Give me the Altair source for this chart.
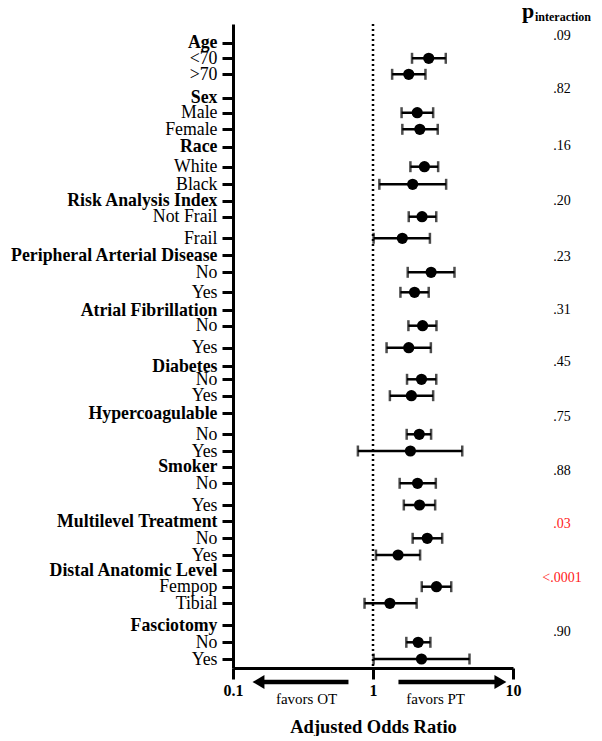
import json
import altair as alt
import pandas as pd

# ---- rows of the forest plot (top to bottom) ----
row_labels = ["Age", "<70", ">70",
              "Sex", "Male", "Female",
              "Race", "White", "Black",
              "Risk Analysis Index", "Not Frail", "Frail",
              "Peripheral Arterial Disease", "No", "Yes",
              "Atrial Fibrillation", "No", "Yes",
              "Diabetes", "No", "Yes",
              "Hypercoagulable", "No", "Yes",
              "Smoker", "No", "Yes",
              "Multilevel Treatment", "No", "Yes",
              "Distal Anatomic Level", "Fempop", "Tibial",
              "Fasciotomy", "No", "Yes"]
row_pos = [42.7, 58.3, 74.3,
           97.7, 112.7, 129.3,
           146.7, 166.7, 184.3,
           200.7, 216.7, 238.3,
           255.0, 272.3, 292.3,
           310.0, 325.7, 347.7,
           366.0, 379.3, 395.7,
           413.3, 434.3, 451.0,
           466.7, 483.3, 505.0,
           521.0, 538.3, 555.0,
           570.0, 586.7, 603.3,
           625.0, 642.3, 659.0]
is_header = [1, 0, 0, 1, 0, 0, 1, 0, 0, 1, 0, 0,
             1, 0, 0, 1, 0, 0, 1, 0, 0, 1, 0, 0,
             1, 0, 0, 1, 0, 0, 1, 0, 0, 1, 0, 0]

# ---- adjusted odds ratios for subgroup rows (in row order) ----
odds_ratio = [2.50, 1.80, 2.07, 2.16, 2.33, 1.92, 2.24, 1.62,
              2.60, 1.98, 2.26, 1.80, 2.22, 1.88, 2.14, 1.85,
              2.08, 2.15, 2.44, 1.51, 2.84, 1.32, 2.10, 2.22]
ci_low = [1.90, 1.37, 1.60, 1.62, 1.85, 1.11, 1.80, 1.01,
          1.77, 1.57, 1.79, 1.25, 1.75, 1.32, 1.74, 0.78,
          1.55, 1.66, 1.92, 1.05, 2.23, 0.87, 1.73, 1.01]
ci_high = [3.31, 2.37, 2.69, 2.90, 2.92, 3.33, 2.83, 2.55,
           3.82, 2.50, 2.84, 2.59, 2.83, 2.69, 2.60, 4.34,
           2.81, 2.78, 3.12, 2.17, 3.62, 2.05, 2.57, 4.89]

# ---- p for interaction, one per header ----
p_text = [".09", ".82", ".16", ".20", ".23", ".31",
          ".45", ".75", ".88", ".03", "<.0001", ".90"]
p_value = [0.09, 0.82, 0.16, 0.20, 0.23, 0.31,
           0.45, 0.75, 0.88, 0.03, 0.0001, 0.90]
p_pos = [36, 89, 146, 201, 257, 310, 362, 417, 471, 524, 578, 632]

# ---- direction annotations below the axis ----
arrow_start = [0.668, 1.52]
arrow_end = [0.152, 8.13]
arrow_text = ["favors OT", "favors PT"]
arrow_text_x = [0.335, 2.80]
arrow_shape = ["triangle-left", "triangle-right"]

# ---------------- tables ----------------
sub_pos = [p for h, p in zip(is_header, row_pos) if not h]
est = pd.DataFrame({"pos": sub_pos, "or": odds_ratio, "lo": ci_low, "hi": ci_high})
pv = pd.DataFrame({"pos": p_pos, "txt": p_text, "p": p_value})
arr = pd.DataFrame({"x1": arrow_start, "x2": arrow_end, "tx": arrow_text_x,
                    "txt": arrow_text, "shape": arrow_shape})
ref = pd.DataFrame({"x": [1.0]})

W, H = 280, 644
FONT = "Liberation Serif"

lab_js = json.dumps(row_labels)
pos_js = json.dumps(row_pos)
head_pos_js = json.dumps([p for h, p in zip(is_header, row_pos) if h])

xscale = alt.Scale(type="log", domain=[0.1, 10], nice=False)
yscale = alt.Scale(domain=[24, 668], reverse=True, nice=False, zero=False)

xaxis = alt.Axis(values=[0.1, 1, 10],
                 labelExpr="datum.value < 0.5 ? '0.1' : (datum.value < 5 ? '1' : '10')",
                 title="Adjusted Odds Ratio", grid=False,
                 domainColor="black", domainWidth=3, tickColor="black", tickWidth=3,
                 tickSize=11, labelFont=FONT, labelFontSize=16, labelFontWeight="bold",
                 labelColor="black", labelPadding=3, labelFlush=False, labelOverlap=False,
                 titleFont=FONT, titleFontSize=18.5, titleFontWeight="bold",
                 titleColor="black", titlePadding=19)
yaxis = alt.Axis(values=row_pos, tickCount=len(row_pos),
                 labelExpr=f"{lab_js}[indexof({pos_js}, datum.value)]",
                 labelFontWeight={"condition": {"test": f"indexof({head_pos_js}, datum.value) >= 0",
                                                "value": "bold"}, "value": "normal"},
                 title=None, grid=False, domainColor="black", domainWidth=3,
                 tickColor="black", tickWidth=3, tickSize=11,
                 labelFont=FONT, labelFontSize=17.8, labelColor="black",
                 labelPadding=5, labelOverlap=False, labelFlush=False,
                 labelLimit=400, labelBound=False)


def X(field):
    return alt.X(field, scale=xscale, axis=xaxis)


def Y(field):
    return alt.Y(field, scale=yscale, axis=yaxis)


base = alt.Chart(est)

bars = base.mark_rule(color="black", strokeWidth=2.5).encode(
    x=X("lo:Q"), x2="hi:Q", y=Y("pos:Q"))
cap_lo = base.mark_tick(color="black", orient="vertical", size=11, thickness=2.5).encode(
    x=X("lo:Q"), y=Y("pos:Q"))
cap_hi = base.mark_tick(color="black", orient="vertical", size=11, thickness=2.5).encode(
    x=X("hi:Q"), y=Y("pos:Q"))
dots = base.mark_circle(color="black", opacity=1, size=125).encode(
    x=X("or:Q"), y=Y("pos:Q"))

refline = alt.Chart(ref).mark_rule(color="black", strokeWidth=2.5,
                                   strokeDash=[2, 3]).encode(x=X("x:Q"))

ptext = alt.Chart(pv).mark_text(font=FONT, fontSize=14, align="center",
                                baseline="middle").encode(
    x=alt.value(329), y=Y("pos:Q"), text="txt:N",
    color=alt.condition("datum.p < 0.05", alt.value("#ff1a1a"), alt.value("black")))

phead1 = alt.Chart(pd.DataFrame({"t": ["p"]})).mark_text(
    font=FONT, fontSize=22, fontWeight="bold", align="left", baseline="alphabetic",
    color="black").encode(x=alt.value(289), y=alt.value(-6), text="t:N")
phead2 = alt.Chart(pd.DataFrame({"t": ["interaction"]})).mark_text(
    font=FONT, fontSize=12, fontWeight="bold", align="left", baseline="alphabetic",
    color="black").encode(x=alt.value(302), y=alt.value(-3), text="t:N")

shafts = alt.Chart(arr).mark_rule(color="black", strokeWidth=4.5).encode(
    x=X("x1:Q"), x2="x2:Q", y=alt.value(H + 14))
heads = alt.Chart(arr).mark_point(filled=True, color="black", opacity=1, size=190).encode(
    x=X("x2:Q"), y=alt.value(H + 14),
    shape=alt.Shape("shape:N", scale=None, legend=None))
favtext = alt.Chart(arr).mark_text(font=FONT, fontSize=15, align="center",
                                   baseline="middle", color="black").encode(
    x=X("tx:Q"), y=alt.value(H + 31), text="txt:N")

chart = alt.layer(bars, refline, cap_lo, cap_hi, dots, ptext, phead1, phead2,
                  shafts, heads, favtext).properties(
    width=W, height=H,
    autosize=alt.AutoSizeParams(type="none"),
    padding={"left": 225, "top": 16, "right": 81, "bottom": 68},
    background="white",
).configure_view(stroke=None)

chart.save("out.html", embed_options={"renderer": "svg", "actions": False})
